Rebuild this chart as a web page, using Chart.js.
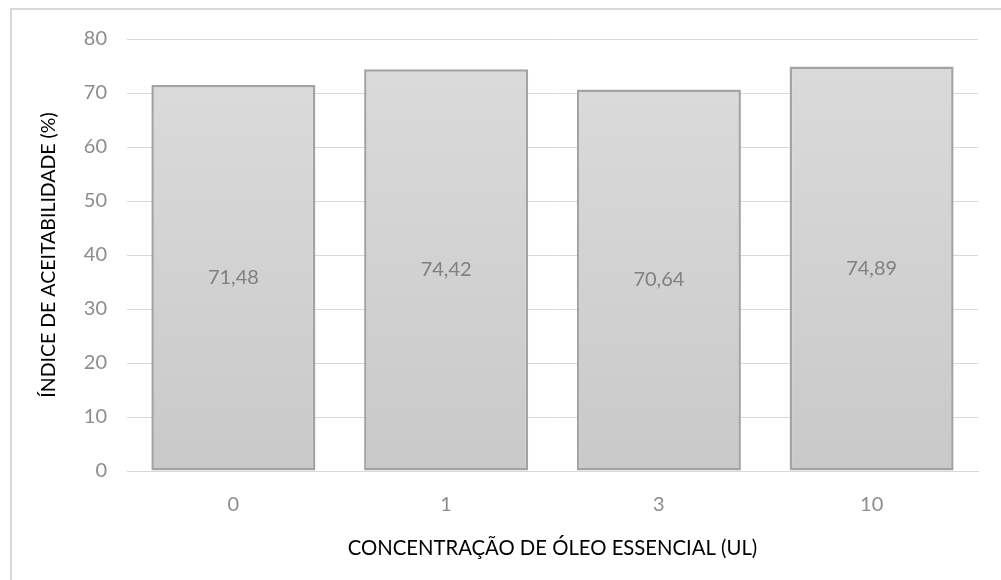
<!DOCTYPE html>
<html lang="pt">
<head>
<meta charset="utf-8">
<style>
  html, body { margin: 0; padding: 0; background: #ffffff; }
  #wrap { position: relative; width: 1001px; height: 580px; }
  canvas { display: block; }
</style>
<script src="https://cdn.jsdelivr.net/npm/chart.js@4.4.1/dist/chart.umd.min.js"></script>
</head>
<body>
<div id="wrap"><canvas id="chart" width="1001" height="580"></canvas></div>
<script>
// Concentração de óleo essencial (UL) e índice de aceitabilidade (%)
const categories = ['0', '1', '3', '10'];
const acceptability = [71.48, 74.42, 70.64, 74.89];
const yTicks = [0, 10, 20, 30, 40, 50, 60, 70, 80];

const FONT = 'Lato, "Open Sans", "DejaVu Sans", sans-serif';

// Thin grey frame around the chart
const framePlugin = {
  id: 'frame',
  beforeDraw(chart) {
    const ctx = chart.ctx;
    ctx.save();
    ctx.strokeStyle = '#d9d9d9';
    ctx.lineWidth = 2;
    ctx.beginPath();
    ctx.moveTo(11, 590);
    ctx.lineTo(11, 9);
    ctx.lineTo(1010, 9);
    ctx.stroke();
    ctx.restore();
  }
};

// Value labels centred inside each bar, formatted with a decimal comma
const barLabelPlugin = {
  id: 'barLabels',
  afterDatasetsDraw(chart) {
    const ctx = chart.ctx;
    const meta = chart.getDatasetMeta(0);
    const values = chart.data.datasets[0].data;
    ctx.save();
    ctx.font = '20px ' + FONT;
    ctx.fillStyle = '#808080';
    ctx.textAlign = 'center';
    ctx.textBaseline = 'middle';
    meta.data.forEach((bar, i) => {
      const y = (bar.y + bar.base) / 2;
      ctx.fillText(values[i].toFixed(2).replace('.', ','), bar.x, y);
    });
    ctx.restore();
  }
};

function barGradient(context) {
  const chart = context.chart;
  const area = chart.chartArea;
  if (!area) return '#d4d4d4';
  const y = chart.scales.y;
  const v = context.raw;
  const top = y.getPixelForValue(v);
  const base = y.getPixelForValue(0);
  const g = chart.ctx.createLinearGradient(0, top, 0, base);
  g.addColorStop(0, '#dadada');
  g.addColorStop(1, '#c9c9c9');
  return g;
}

new Chart(document.getElementById('chart'), {
  type: 'bar',
  data: {
    labels: categories,
    datasets: [{
      data: acceptability,
      backgroundColor: barGradient,
      borderColor: '#a3a3a3',
      borderWidth: 2.5,
      borderSkipped: false,
      categoryPercentage: 1,
      barPercentage: 0.771
    }]
  },
  options: {
    responsive: false,
    animation: false,
    devicePixelRatio: 1,
    layout: { padding: { left: 37, right: 23, top: 39, bottom: 19 } },
    plugins: {
      legend: { display: false },
      tooltip: { enabled: false },
      title: { display: false }
    },
    scales: {
      x: {
        grid: { display: false, drawTicks: false },
        border: { display: true, color: '#d9d9d9', width: 1 },
        ticks: {
          color: '#8c8c8c',
          font: { family: FONT, size: 20 },
          padding: 22
        },
        title: {
          display: true,
          text: 'CONCENTRAÇÃO DE ÓLEO ESSENCIAL (UL)',
          color: '#000000',
          font: { family: FONT, size: 20.3 },
          padding: 0
        },
        afterFit(scale) { scale.height = 90; }
      },
      y: {
        min: 0,
        max: 80,
        afterBuildTicks(scale) { scale.ticks = yTicks.map(v => ({ value: v })); },
        grid: { color: '#d9d9d9', lineWidth: 1, drawTicks: false },
        border: { display: false },
        ticks: {
          color: '#8c8c8c',
          font: { family: FONT, size: 20 },
          padding: 20
        },
        title: {
          display: true,
          text: 'ÍNDICE DE ACEITABILIDADE (%)',
          color: '#000000',
          font: { family: FONT, size: 19.5 },
          padding: 0
        },
        afterFit(scale) { scale.width = 90; }
      }
    }
  },
  plugins: [framePlugin, barLabelPlugin]
});
</script>
</body>
</html>
